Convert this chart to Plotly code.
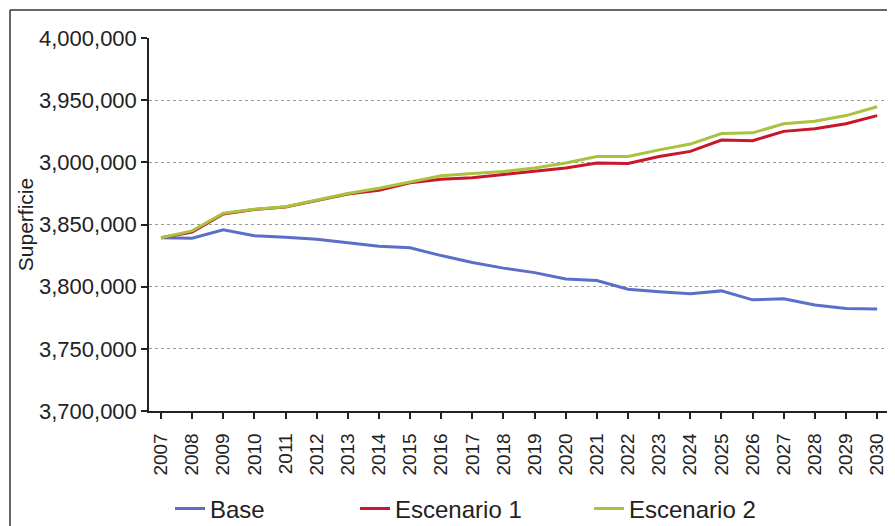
import plotly.graph_objects as go

years = list(range(2007, 2031))
base = [3839300, 3839000, 3845700, 3841000, 3839800, 3838200, 3835300, 3832600,
        3831300, 3825000, 3819400, 3814900, 3811300, 3806200, 3804900, 3798000,
        3796000, 3794400, 3796600, 3789400, 3790200, 3785300, 3782400, 3782100]
escenario1 = [3839300, 3844000, 3858500, 3862000, 3864000, 3869300, 3874500, 3877500,
              3883600, 3886400, 3887600, 3890200, 3892800, 3895500, 3899500, 3899000,
              3904700, 3908800, 3917900, 3917400, 3924900, 3927000, 3931000, 3937600]
escenario2 = [3839300, 3844900, 3859000, 3862200, 3864300, 3869700, 3875000, 3879100,
              3884400, 3889200, 3891000, 3892700, 3895500, 3899500, 3904700, 3904700,
              3910000, 3914700, 3923100, 3923700, 3931000, 3933100, 3937600, 3944700]
y_tickvals = [3700000, 3750000, 3800000, 3850000, 3900000, 3950000, 4000000]
y_ticktext = ["3,700,000", "3,750,000", "3,800,000", "3,850,000", "3,000,000", "3,950,000", "4,000,000"]

FONT = "Liberation Sans, Arial, sans-serif"

fig = go.Figure()
fig.add_trace(go.Scatter(x=years, y=base, mode="lines", name="Base",
                         line=dict(color="#5b6fc8", width=3), legend="legend"))
fig.add_trace(go.Scatter(x=years, y=escenario1, mode="lines", name="Escenario 1",
                         line=dict(color="#c8162c", width=3), legend="legend2"))
fig.add_trace(go.Scatter(x=years, y=escenario2, mode="lines", name="Escenario 2",
                         line=dict(color="#a9c23f", width=3), legend="legend3"))

# page body has an 8px default margin: compensate so the chart lands in window coords
OFF = 8
EXTRA = 40  # extra figure height below the window so the legends never push margins
W, H = 895 - OFF, 526 - OFF + EXTRA
L, R, T, B = 149 - OFF, 2, 38 - OFF, 526 - 411 + EXTRA
pw, ph = W - L - R, H - T - B

def px(x):
    return (x - OFF - L) / pw

def py(y):
    return (H - B - (y - OFF)) / ph

leg_common = dict(orientation="h", yanchor="middle", xanchor="left",
                  font=dict(family=FONT, size=24, color="#222"),
                  bgcolor="rgba(0,0,0,0)", itemwidth=30)

fig.update_layout(
    width=W, height=H,
    margin=dict(l=L, r=R, t=T, b=B, autoexpand=False),
    paper_bgcolor="white", plot_bgcolor="white",
    font=dict(family=FONT, color="#222"),
    showlegend=True,
    legend=dict(x=px(170), y=py(509), **leg_common),
    legend2=dict(x=px(355), y=py(509), **leg_common),
    legend3=dict(x=px(589), y=py(509), **leg_common),
    xaxis=dict(
        range=[2006.615, 2030.51],
        tickmode="array", tickvals=years, ticktext=[str(y) for y in years],
        tickangle=-90, tickfont=dict(family=FONT, size=19, color="#222"),
        ticks="outside", ticklen=6, tickcolor="#222", tickwidth=1.5,
        ticklabelstandoff=7,
        showline=True, linecolor="#222", linewidth=1.5,
        showgrid=False, zeroline=False, fixedrange=True, automargin=False,
    ),
    yaxis=dict(
        range=[3700000, 4000000],
        tickmode="array", tickvals=y_tickvals, ticktext=y_ticktext,
        tickfont=dict(family=FONT, size=22, color="#222"),
        ticks="outside", ticklen=6, tickcolor="#222", tickwidth=1.5,
        showline=True, linecolor="#222", linewidth=1.5,
        showgrid=True, gridcolor="#9a9a9a", gridwidth=1, griddash="dot",
        zeroline=False, fixedrange=True, automargin=False,
        title=dict(text="Superficie", font=dict(family=FONT, size=21, color="#222"), standoff=0),
    ),
    shapes=[
        dict(type="line", xref="paper", yref="paper", x0=px(10), x1=px(10),
             y0=py(10), y1=py(560), line=dict(color="#333", width=1.5)),
        dict(type="line", xref="paper", yref="paper", x0=px(10), x1=px(900),
             y0=py(10), y1=py(10), line=dict(color="#333", width=1.5)),
    ],
)

fig.write_html("out.html")
